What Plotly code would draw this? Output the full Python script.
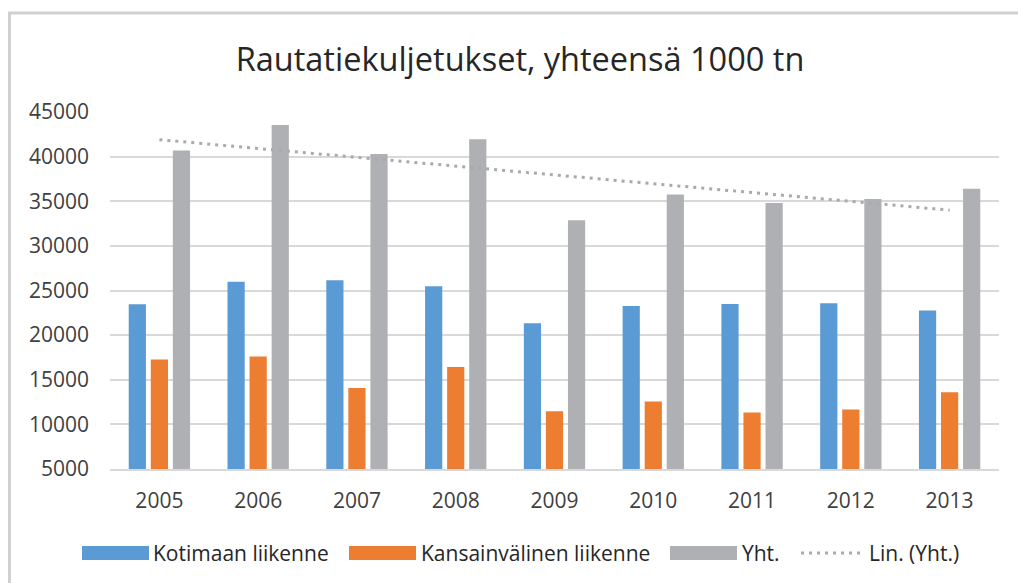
import numpy as np
import plotly.graph_objects as go

years = ["2005", "2006", "2007", "2008", "2009", "2010", "2011", "2012", "2013"]
kotimaan = [23470, 25970, 26160, 25490, 21340, 23250, 23500, 23580, 22760]
kansainvalinen = [17270, 17600, 14080, 16440, 11470, 12560, 11320, 11660, 13600]
yht = [40700, 43540, 40290, 41940, 32860, 35770, 34800, 35250, 36400]
series_names = ["Kotimaan liikenne", "Kansainvälinen liikenne", "Yht.", "Lin. (Yht.)"]
y_ticks = [5000, 10000, 15000, 20000, 25000, 30000, 35000, 40000, 45000]
title_text = "Rautatiekuljetukset, yhteensä 1000 tn"

colors = ["#5B9BD5", "#ED7D31", "#AFB0B3", "#A9AAAD"]
FONT = "Open Sans, sans-serif"

# linear trendline (least squares) of Yht.
xi = np.arange(len(years))
slope, intercept = np.polyfit(xi, yht, 1)
trend = (slope * xi + intercept).tolist()

W, H = 1018, 583
L, R, T, B = 110, 19, 112, 114
pw, ph = W - L - R, H - T - B


def px(x):
    return (x - L) / pw


def py(y):
    return (H - B - y) / ph


fig = go.Figure()
for name, vals, c in zip(series_names[:3], [kotimaan, kansainvalinen, yht], colors[:3]):
    fig.add_trace(go.Bar(x=years, y=vals, name=name, marker=dict(color=c, line=dict(width=0)),
                         showlegend=False))
fig.add_trace(go.Scatter(x=years, y=trend, name=series_names[3], mode="lines",
                         line=dict(color=colors[3], width=3, dash="3px,5px"), showlegend=False))

shapes = []
annotations = []
# outer chart border
shapes.append(dict(type="rect", xref="paper", yref="paper", x0=px(9.5), x1=px(1100), y0=py(650), y1=py(13),
                   line=dict(color="#D0D0D0", width=3), fillcolor="rgba(0,0,0,0)", layer="below"))

# custom legend
leg_y = 553
swatches = [(82, 149, 151), (349, 416, 419), (670, 737, 740)]
for (x0, x1, tx), c, name in zip(swatches, colors[:3], series_names[:3]):
    shapes.append(dict(type="rect", xref="paper", yref="paper", x0=px(x0), x1=px(x1),
                       y0=py(560), y1=py(546), line=dict(width=0), fillcolor=c))
    annotations.append(dict(text=name, xref="paper", yref="paper", x=px(tx), y=py(leg_y),
                            xanchor="left", yanchor="middle", showarrow=False,
                            font=dict(family=FONT, size=21, color="#262626")))
shapes.append(dict(type="line", xref="paper", yref="paper", x0=px(801), x1=px(864), y0=py(leg_y), y1=py(leg_y),
                   line=dict(color=colors[3], width=3, dash="3px,5px")))
annotations.append(dict(text=series_names[3], xref="paper", yref="paper", x=px(867), y=py(leg_y),
                        xanchor="left", yanchor="middle", showarrow=False,
                        font=dict(family=FONT, size=21, color="#262626")))

fig.update_layout(
    width=W, height=H,
    margin=dict(l=L, r=R, t=T, b=B),
    paper_bgcolor="white", plot_bgcolor="white",
    title=dict(text=title_text, x=520 / W, xref="container", xanchor="center",
               y=1 - 60 / H, yanchor="middle",
               font=dict(family=FONT, size=32.5, color="#262626")),
    barmode="group", bargap=0.33, bargroupgap=0.22,
    shapes=shapes, annotations=annotations,
    font=dict(family=FONT, color="#404040"),
)
fig.update_xaxes(type="category", showgrid=False, showline=True, linecolor="#D9D9D9", linewidth=2,
                 ticks="", tickfont=dict(family=FONT, size=21, color="#404040"), ticklabelstandoff=12)
fig.update_yaxes(range=[5000, 45000], tickvals=y_ticks, tickformat="d", showgrid=True,
                 gridcolor="#D9D9D9", gridwidth=2, zeroline=False, showline=False, ticks="",
                 tickfont=dict(family=FONT, size=21, color="#404040"), ticklabelstandoff=20)

fig.write_html("out.html", config={"displayModeBar": False},
               post_script="document.body.style.margin='0';document.body.style.overflow='hidden';")
